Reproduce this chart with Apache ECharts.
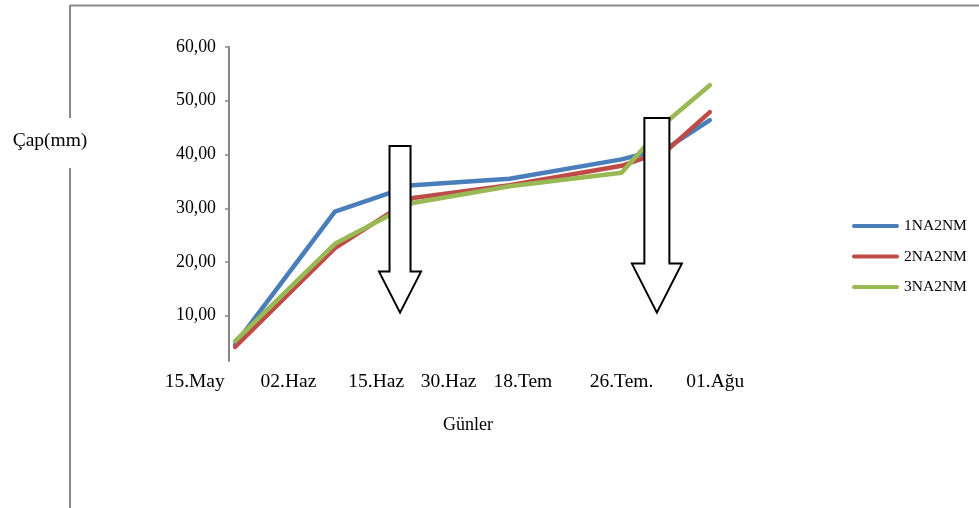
<!DOCTYPE html>
<html>
<head>
<meta charset="utf-8">
<script src="https://cdn.jsdelivr.net/npm/echarts@6/dist/echarts.min.js"></script>
<style>
  html, body { margin: 0; padding: 0; background: #fff; }
  #chart { width: 979px; height: 508px; }
</style>
</head>
<body>
<div id="chart"></div>
<script>
// Ölçüm zamanları (yatay eksen birimi) ve çap ölçümleri (mm)
const gun = [1.0, 17.4, 30.2, 46.1, 64.5, 72.1, 79.0];
const seri1NA2NM = [4.7, 29.4, 34.3, 35.5, 39.1, 41.3, 46.4];
const seri2NA2NM = [4.2, 22.6, 31.9, 34.3, 37.9, 40.9, 47.9];
const seri3NA2NM = [5.3, 23.4, 31.0, 34.1, 36.6, 46.3, 52.9];
const seriAdlari = ['1NA2NM', '2NA2NM', '3NA2NM'];

// Tarih etiketleri ve yatay eksendeki yerleri
const tarihEtiketleri = ['15.May', '02.Haz', '15.Haz', '30.Haz', '18.Tem', '26.Tem.', '01.Ağu'];
const tarihKonumlari = [-5.6, 9.8, 24.2, 36.1, 48.3, 64.5, 79.9];

// Dikey eksen etiketleri
const capEtiketleri = [10, 20, 30, 40, 50, 60];

// Aşağı yönlü oklar: yatay konum, üst ve uç değerleri
const okX = [28.1, 70.3];
const okUst = [41.6, 46.8];
const okUc = [10.6, 10.6];

const renkler = ['#4A7EBB', '#BE4B48', '#98B954'];
const yaziTipi = '"Liberation Serif", "Times New Roman", serif';
const okBoyut = [
  { govde: 21, bas: 42, basYuk: 41 },
  { govde: 25, bas: 50, basYuk: 49 }
];

const chart = echarts.init(document.getElementById('chart'), null, { renderer: 'canvas' });

function pairs(values) {
  return values.map((v, i) => [gun[i], v]);
}

const lineSeries = [seri1NA2NM, seri2NA2NM, seri3NA2NM].map((vals, i) => ({
  name: seriAdlari[i],
  type: 'line',
  xAxisIndex: 0,
  yAxisIndex: 0,
  data: pairs(vals),
  symbol: 'none',
  showSymbol: false,
  clip: false,
  z: 2,
  lineStyle: { color: renkler[i], width: 4.5, cap: 'round', join: 'round' },
  itemStyle: { color: renkler[i] },
  emphasis: { disabled: true }
}));

const okSerisi = {
  type: 'custom',
  name: 'oklar',
  xAxisIndex: 0,
  yAxisIndex: 0,
  z: 5,
  silent: true,
  clip: false,
  data: okX.map((x, i) => [x, okUst[i], okUc[i], i]),
  renderItem: function (params, api) {
    const b = okBoyut[api.value(3)];
    const top = api.coord([api.value(0), api.value(1)]);
    const tip = api.coord([api.value(0), api.value(2)]);
    const cx = tip[0];
    const headTop = tip[1] - b.basYuk;
    const sw = b.govde / 2, hw = b.bas / 2;
    return {
      type: 'polygon',
      shape: {
        points: [
          [cx, tip[1]],
          [cx - hw, headTop],
          [cx - sw, headTop],
          [cx - sw, top[1]],
          [cx + sw, top[1]],
          [cx + sw, headTop],
          [cx + hw, headTop]
        ]
      },
      style: { fill: '#ffffff', stroke: '#000000', lineWidth: 2 }
    };
  }
};

// Kapsül biçimli gösterge simgesi
const kapsul = 'path://M2,0 L45,0 A2,2 0 0 1 45,4 L2,4 A2,2 0 0 1 2,0 Z';

const option = {
  backgroundColor: '#ffffff',
  animation: false,
  grid: [
    { left: 229, right: 257, top: 47, bottom: 147, containLabel: false },
    { left: 174, right: 257, top: 47, bottom: 147, containLabel: false }
  ],
  legend: {
    data: seriAdlari.map(n => ({ name: n, icon: kapsul })),
    orient: 'vertical',
    left: 852,
    top: 218,
    padding: 0,
    itemWidth: 47,
    itemHeight: 4.5,
    itemGap: 14.5,
    textStyle: { fontFamily: yaziTipi, fontSize: 15.5, color: '#000', lineHeight: 16 }
  },
  xAxis: [
    {
      type: 'value',
      gridIndex: 0,
      min: 0,
      max: 81,
      splitLine: { show: false },
      axisLine: { show: false },
      axisTick: { show: false },
      axisLabel: { show: false }
    },
    {
      type: 'value',
      gridIndex: 1,
      min: -9,
      max: 81,
      splitLine: { show: false },
      axisLine: { show: false },
      axisTick: { show: false },
      axisLabel: {
        customValues: tarihKonumlari,
        margin: 11,
        fontFamily: yaziTipi,
        fontSize: 19.5,
        color: '#000',
        formatter: function (v) {
          const i = tarihKonumlari.findIndex(p => Math.abs(p - v) < 1e-6);
          return i >= 0 ? tarihEtiketleri[i] : '';
        }
      }
    }
  ],
  yAxis: [
    {
      type: 'value',
      gridIndex: 0,
      min: 1.6,
      max: 60,
      splitLine: { show: false },
      axisLine: { show: true, onZero: false, lineStyle: { color: '#868686', width: 2 } },
      axisTick: { show: true, customValues: capEtiketleri, length: 4, lineStyle: { color: '#868686', width: 1.5 } },
      axisLabel: {
        customValues: capEtiketleri,
        margin: 13,
        fontFamily: yaziTipi,
        fontSize: 17.8,
        color: '#000',
        formatter: function (v) { return v.toFixed(2).replace('.', ','); }
      }
    },
    {
      type: 'value',
      gridIndex: 1,
      min: 1.6,
      max: 60,
      show: false
    }
  ],
  graphic: [
    { type: 'line', shape: { x1: 70, y1: 5.5, x2: 979, y2: 5.5 }, style: { stroke: '#898989', lineWidth: 2 }, silent: true },
    { type: 'line', shape: { x1: 70, y1: 5, x2: 70, y2: 118 }, style: { stroke: '#898989', lineWidth: 2 }, silent: true },
    { type: 'line', shape: { x1: 70, y1: 168, x2: 70, y2: 508 }, style: { stroke: '#898989', lineWidth: 2 }, silent: true },
    {
      type: 'text', x: 50, y: 141, silent: true,
      style: { text: 'Çap(mm)', fontFamily: yaziTipi, fontSize: 19.5, fill: '#000', align: 'center', verticalAlign: 'middle' }
    },
    {
      type: 'text', x: 468, y: 425, silent: true,
      style: { text: 'Günler', fontFamily: yaziTipi, fontSize: 18, fill: '#000', align: 'center', verticalAlign: 'middle' }
    }
  ],
  series: lineSeries.concat([okSerisi])
};

chart.setOption(option);
</script>
</body>
</html>
